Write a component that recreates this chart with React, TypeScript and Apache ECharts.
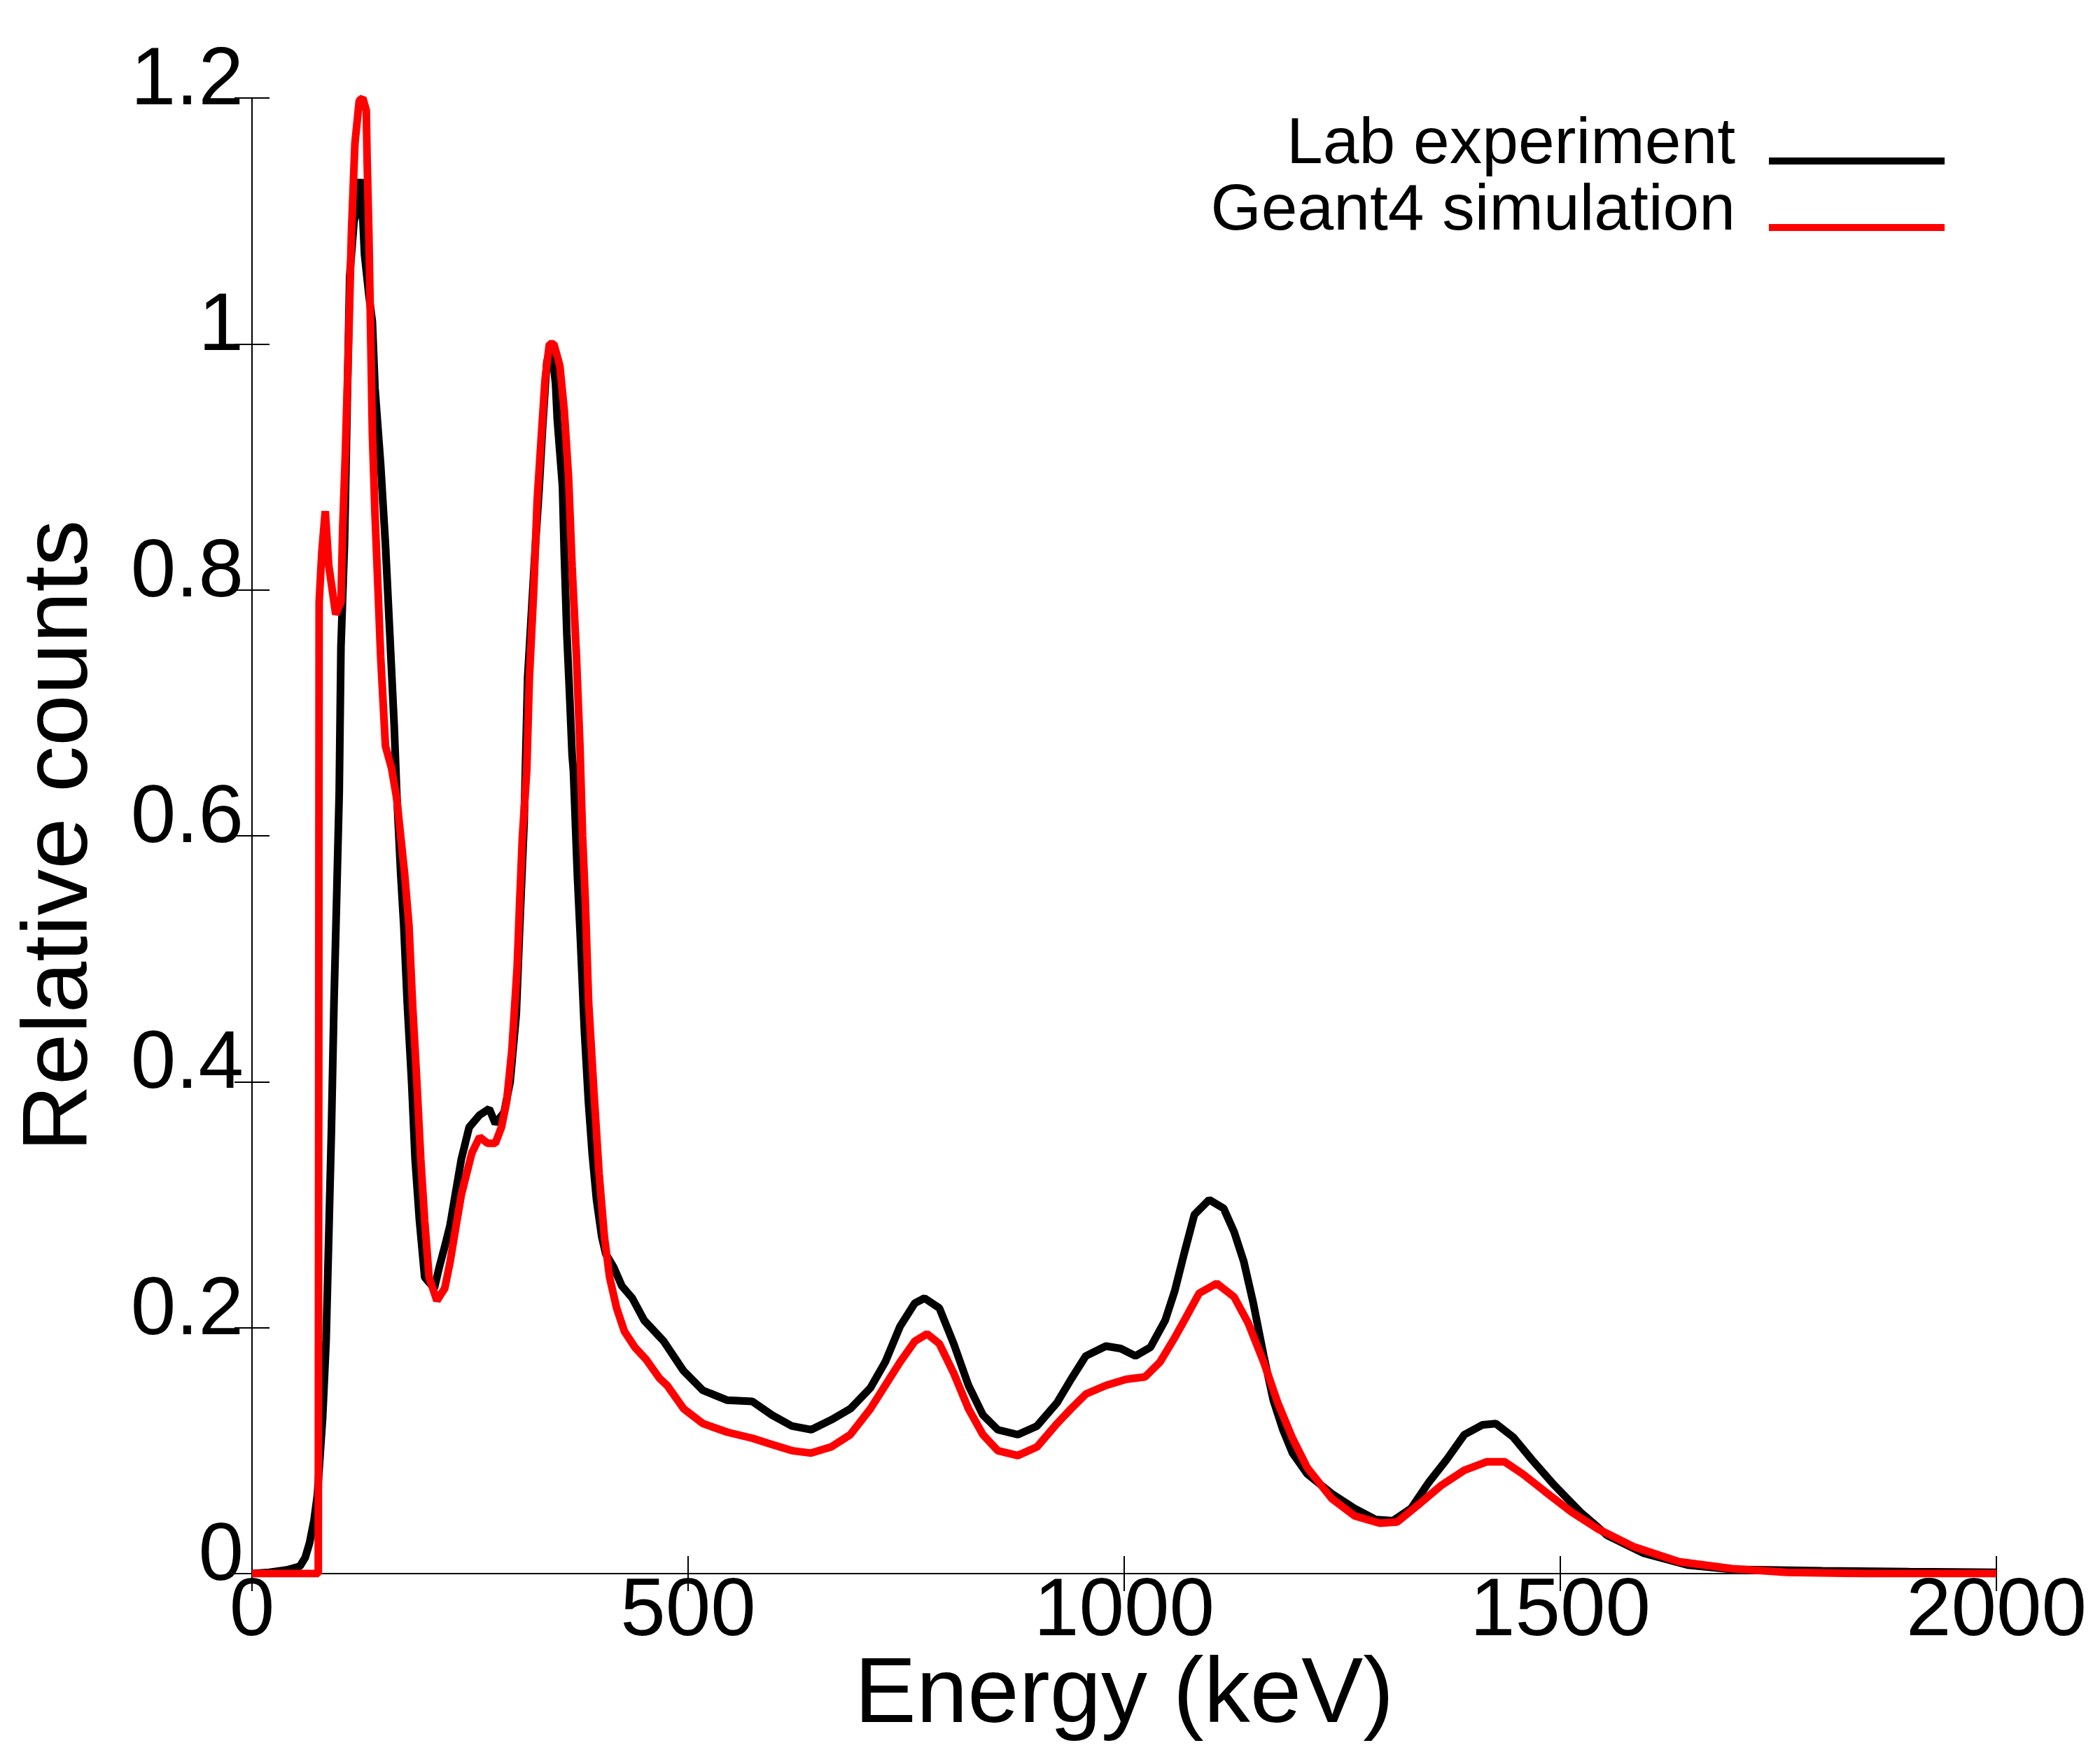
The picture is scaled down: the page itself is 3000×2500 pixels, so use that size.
import React, { useEffect, useRef } from "react";
import * as echarts from "echarts";

const seriesNames = ["Lab experiment", "Geant4 simulation"];
const seriesColors = ["#000000", "#ff0000"];

const xTicks = { min: 0, max: 2000, interval: 500 };
const yTicks = { min: 0, max: 1.2, interval: 0.2 };

const labEnergy = [
  0, 20, 40, 55, 61, 66, 71, 75, 81, 85, 88, 91, 94, 97, 100, 102, 106, 109, 112, 117, 121, 125,
  129, 134, 138, 141, 147.5, 153, 158, 163, 166, 170.5, 174, 178, 183, 187, 192, 198, 204, 209,
  215, 221, 227, 240, 249, 261, 272, 279, 289, 296, 303, 307, 312, 316, 325, 329, 333, 338, 343,
  348, 350, 356, 358, 361, 364, 367, 368.5, 373, 376.6, 381, 385.7, 390, 395, 401, 405.6, 414.8,
  424, 436, 449.6, 472, 494.6, 517, 545, 573.6, 596, 619, 641, 664, 686, 709, 726, 743, 760, 771,
  788, 804.5, 821.5, 838, 855, 878, 900, 923, 939, 956, 979, 996, 1013, 1030, 1047, 1058, 1069,
  1080.5, 1097.5, 1114, 1126, 1137, 1148, 1160, 1171, 1182, 1193, 1210, 1238, 1264, 1288, 1308,
  1329, 1349, 1370, 1390, 1411, 1426, 1446, 1467, 1493, 1523, 1554, 1595, 1646, 1697, 1800, 1900,
  2000,
];
const labCounts = [
  0.0, 0.001, 0.003, 0.006, 0.013, 0.025, 0.043, 0.064, 0.127, 0.19, 0.274, 0.359, 0.464, 0.548,
  0.635, 0.754, 0.837, 0.946, 1.055, 1.1, 1.11, 1.134, 1.073, 1.04, 1.018, 0.964, 0.902, 0.837,
  0.764, 0.69, 0.634, 0.569, 0.527, 0.464, 0.4, 0.337, 0.287, 0.241, 0.236, 0.232, 0.25, 0.266,
  0.283, 0.337, 0.363, 0.373, 0.378, 0.366, 0.375, 0.4, 0.455, 0.527, 0.611, 0.728, 0.837, 0.88,
  0.93, 0.985, 1.0, 0.968, 0.939, 0.884, 0.83, 0.764, 0.717, 0.666, 0.653, 0.569, 0.515, 0.443,
  0.384, 0.342, 0.304, 0.274, 0.26, 0.249, 0.234, 0.224, 0.206, 0.189, 0.165, 0.149, 0.141, 0.14,
  0.129, 0.12, 0.117, 0.125, 0.134, 0.151, 0.172, 0.201, 0.22, 0.224, 0.216, 0.187, 0.153, 0.129,
  0.117, 0.113, 0.12, 0.139, 0.158, 0.177, 0.185, 0.183, 0.177, 0.184, 0.206, 0.23, 0.261, 0.292,
  0.304, 0.297, 0.278, 0.254, 0.22, 0.177, 0.141, 0.117, 0.098, 0.081, 0.065, 0.053, 0.044, 0.043,
  0.053, 0.074, 0.093, 0.113, 0.121, 0.122, 0.111, 0.093, 0.072, 0.05, 0.031, 0.0167, 0.007,
  0.0034, 0.0023, 0.0015, 0.001,
];

const simEnergy = [
  0, 76, 77, 80, 84, 88, 92, 96, 102, 104, 107, 111, 114, 118, 123, 127, 131, 132, 134, 136, 138,
  141, 144.5, 147.5, 153, 160, 166, 175, 180, 184, 189, 193.5, 198, 203, 212, 221, 227, 234, 240,
  246, 252, 261, 270, 279, 286, 292, 298, 304, 307, 310, 315, 318, 323, 327, 332, 336, 341, 346,
  350, 353, 358, 363, 367, 372, 376, 379, 382, 386, 392, 398, 404, 410, 418, 427, 439, 452, 467,
  476, 495, 517, 545, 574, 596, 619, 641, 664, 686, 709, 726, 743, 760, 774, 788, 804.5, 821.5,
  838, 855, 878, 900, 923, 939, 956, 979, 1002, 1024, 1041, 1058, 1069, 1086, 1106, 1126, 1142,
  1160, 1176, 1193, 1210, 1238, 1264, 1293, 1313, 1339, 1364, 1390, 1416, 1436, 1457, 1482, 1513,
  1544, 1585, 1636, 1697, 1760, 1850, 2000,
];
const simCounts = [
  0.0, 0.0, 0.79, 0.83, 0.864, 0.82, 0.8, 0.78, 0.79, 0.85, 0.91, 1.007, 1.09, 1.163, 1.198, 1.2,
  1.19, 1.15, 1.09, 1.01, 0.928, 0.862, 0.8, 0.746, 0.673, 0.655, 0.63, 0.569, 0.527, 0.464, 0.4,
  0.337, 0.287, 0.241, 0.222, 0.232, 0.253, 0.283, 0.308, 0.325, 0.342, 0.355, 0.35, 0.35, 0.363,
  0.384, 0.426, 0.493, 0.548, 0.599, 0.653, 0.728, 0.8, 0.873, 0.928, 0.971, 1.0, 1.0, 0.99, 0.982,
  0.946, 0.891, 0.819, 0.746, 0.673, 0.6, 0.55, 0.464, 0.392, 0.325, 0.274, 0.241, 0.216, 0.197,
  0.184, 0.174, 0.159, 0.153, 0.134, 0.122, 0.115, 0.11, 0.105, 0.1, 0.098, 0.103, 0.113, 0.134,
  0.153, 0.172, 0.189, 0.195, 0.187, 0.163, 0.134, 0.113, 0.1, 0.096, 0.103, 0.122, 0.134, 0.146,
  0.153, 0.158, 0.16, 0.172, 0.192, 0.206, 0.228, 0.236, 0.225, 0.204, 0.172, 0.139, 0.11, 0.086,
  0.061, 0.047, 0.041, 0.042, 0.057, 0.072, 0.084, 0.091, 0.091, 0.081, 0.067, 0.05, 0.036, 0.0216,
  0.0097, 0.004, 0.001, 0.0, 0.0,
];

const FONT = "'Liberation Sans', Arial, Helvetica, sans-serif";

export default function App() {
  const ref = useRef<HTMLDivElement>(null);

  useEffect(() => {
    if (!ref.current) return;
    const chart = echarts.init(ref.current, undefined, { renderer: "svg" });

    const zip = (xs: number[], ys: number[]) => xs.map((x, i) => [x, ys[i]]);
    const axisLine = { show: true, lineStyle: { color: "#000", width: 2 } };
    const tick = { show: true, inside: true, length: 25, lineStyle: { color: "#000", width: 2 } };

    const legendRows = seriesNames
      .map((name, i) => {
        const cy = 230 + i * 95;
        return [
          {
            type: "text",
            style: {
              text: name,
              x: 2479,
              y: cy - 29,
              fontSize: 93,
              fontFamily: FONT,
              fill: "#000",
              textAlign: "right",
              textVerticalAlign: "middle",
            },
          },
          {
            type: "line",
            shape: { x1: 2527, y1: cy, x2: 2778, y2: cy },
            style: { stroke: seriesColors[i], lineWidth: 10 },
          },
        ];
      })
      .flat();

    chart.setOption({
      animation: false,
      backgroundColor: "#fff",
      grid: { left: 360, right: 148, top: 140, bottom: 252 },
      xAxis: [
        {
          type: "value",
          min: xTicks.min,
          max: xTicks.max,
          interval: xTicks.interval,
          position: "bottom",
          name: "Energy (keV)",
          nameLocation: "middle",
          nameGap: 111,
          nameMoveOverlap: false,
          nameTextStyle: { fontSize: 132, lineHeight: 110, fontFamily: FONT, color: "#000" },
          axisLine,
          axisTick: tick,
          splitLine: { show: false },
          axisLabel: {
            fontSize: 116,
            lineHeight: 90,
            fontFamily: FONT,
            color: "#000",
            margin: 3,
            formatter: (v: number) => String(v),
          },
        },
        {
          type: "value",
          min: xTicks.min,
          max: xTicks.max,
          interval: xTicks.interval,
          position: "top",
          axisLine,
          axisTick: tick,
          splitLine: { show: false },
          axisLabel: { show: false },
        },
      ],
      yAxis: [
        {
          type: "value",
          min: yTicks.min,
          max: yTicks.max,
          interval: yTicks.interval,
          position: "left",
          name: "Relative counts",
          nameLocation: "middle",
          nameGap: 216,
          nameMoveOverlap: false,
          nameTextStyle: { fontSize: 132, fontFamily: FONT, color: "#000" },
          axisLine,
          axisTick: tick,
          splitLine: { show: false },
          axisLabel: {
            fontSize: 116,
            fontFamily: FONT,
            color: "#000",
            margin: 12,
            verticalAlign: "bottom",
            lineHeight: 62,
            formatter: (v: number) => String(Math.round(v * 10) / 10),
          },
        },
        {
          type: "value",
          min: yTicks.min,
          max: yTicks.max,
          interval: yTicks.interval,
          position: "right",
          axisLine,
          axisTick: tick,
          splitLine: { show: false },
          axisLabel: { show: false },
        },
      ],
      graphic: legendRows,
      series: [
        {
          name: seriesNames[0],
          type: "line",
          data: zip(labEnergy, labCounts),
          showSymbol: false,
          lineStyle: { color: seriesColors[0], width: 11 },
          itemStyle: { color: seriesColors[0] },
          z: 2,
        },
        {
          name: seriesNames[1],
          type: "line",
          data: zip(simEnergy, simCounts),
          showSymbol: false,
          lineStyle: { color: seriesColors[1], width: 11 },
          itemStyle: { color: seriesColors[1] },
          z: 3,
        },
      ],
    });

    return () => chart.dispose();
  }, []);

  return (
    <div
      ref={ref}
      style={{ position: "fixed", left: 0, top: 0, width: 3000, height: 2500, background: "#fff" }}
    />
  );
}
